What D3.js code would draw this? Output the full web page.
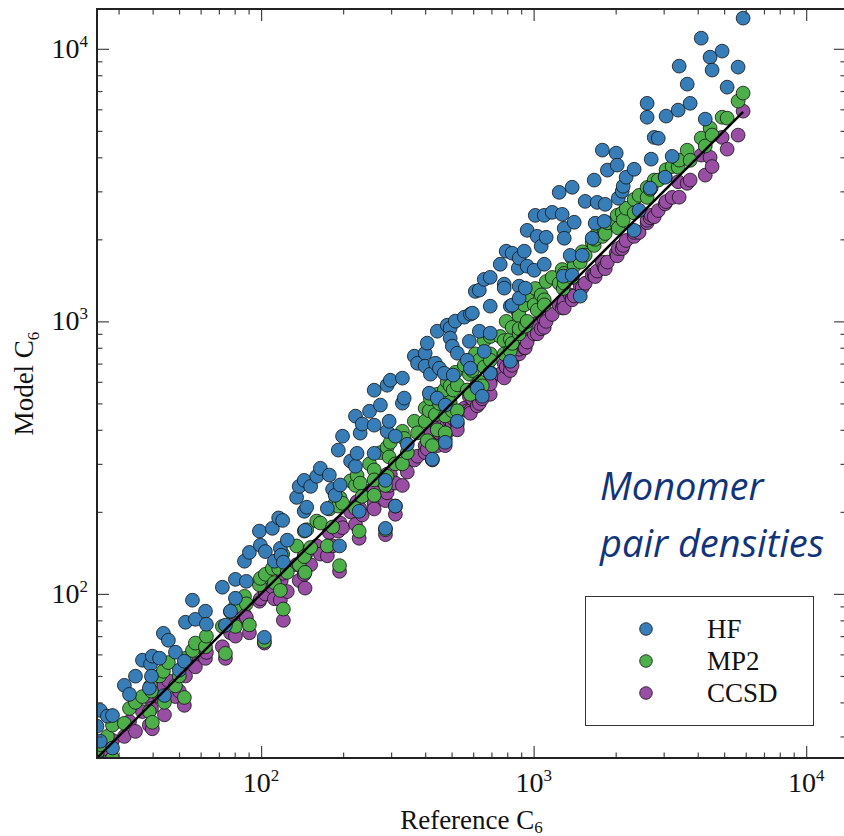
<!DOCTYPE html>
<html>
<head>
<meta charset="utf-8">
<script src="https://cdn.jsdelivr.net/npm/d3@7"></script>
<style>
  body { margin: 0; background: #fff; }
  svg { display: block; }
</style>
</head>
<body>
<div id="chart"></div>
<script>
// Reference C6 for each monomer pair density, and the three model values
const refC6 = [
  25.0, 25.7, 25.7, 27.3, 28.5, 28.5, 31.5, 32.9, 34.6, 36.7,
  38.9, 39.3, 39.6, 39.9, 42.4, 43.8, 44.2, 45.7, 48.5, 50.1,
  52.3, 52.8, 56.0, 57.4, 62.5, 63.0, 72.1, 74.0, 77.2, 80.5,
  80.5, 86.9, 88.3, 90.6, 98.6, 99.4, 102.8, 103.7, 110, 111.9,
  116, 117.7, 118.5, 120, 120.7, 124.8, 135, 138, 144, 144,
  145, 147, 152, 160, 165, 175, 178, 183, 187, 192,
  194, 195, 199, 213, 222, 222, 225, 229, 231, 235,
  250, 260, 260, 260, 274, 286, 286, 290, 290, 295,
  298, 311, 311, 330, 330, 335, 344, 365, 375, 400,
  400, 407, 414, 418, 425, 436, 443, 443, 451, 470,
  474, 474, 482, 494, 494, 503, 507, 516, 525, 525,
  557, 571, 581, 586, 586, 596, 611, 621, 632, 632,
  648, 659, 659, 693, 693, 693, 693, 754, 780, 780,
  793, 821, 821, 834, 834, 878, 885, 885, 885, 924,
  932, 947, 947, 1005, 1014, 1031, 1066, 1094, 1094, 1112,
  1170, 1241, 1273, 1284, 1295, 1295, 1362, 1385, 1385, 1409,
  1483, 1508, 1546, 1640, 1668, 1682, 1711, 1787, 1816, 1831,
  1865, 2009, 2026, 2044, 2113, 2131, 2185, 2338, 2338, 2438,
  2609, 2609, 2677, 2700, 2770, 2866, 3038, 3063, 3224, 3391,
  3420, 3661, 3753, 4120, 4263, 4441, 4517, 4915, 5129, 5627,
  5870
];

const hfC6 = [
  32.7, 37.4, 28.8, 35.6, 35.8, 27.2, 46.2, 42.8, 49.9, 57.1,
  45.1, 55.2, 49.9, 59.1, 58.1, 71.7, 42.4, 67.6, 61.1, 52.5,
  56.6, 78.7, 94.8, 80.7, 86.4, 77.4, 105.8, 76.8, 86.4, 113.1,
  96.4, 131.8, 111.2, 142, 170, 150.9, 69.3, 143, 174, 131.8,
  190, 147, 138.7, 186, 130.7, 157.4, 226, 248, 261, 201,
  171, 208, 248, 270, 289, 206, 273, 242, 230, 337,
  150, 251, 379, 307, 449, 294, 328, 201, 389, 420,
  468, 559, 416, 328, 493, 174, 261, 583, 395, 430,
  608, 379, 210, 619, 501, 523, 354, 745, 702, 764,
  685, 832, 545, 640, 312, 702, 920, 523, 673, 645,
  493, 360, 968, 944, 868, 811, 635, 1002, 764, 430,
  1036, 720, 845, 1063, 673, 1072, 1288, 569, 1302, 920,
  531, 1426, 776, 1451, 1137, 905, 645, 1620, 1369, 1324,
  1809, 1137, 714, 1779, 1147, 1567, 1706, 1346, 1217, 1809,
  1324, 2158, 1594, 1540, 2449, 2052, 1886, 2449, 1620, 2035,
  2512, 2974, 2470, 1465, 2194, 2018, 1747, 3105, 1478, 2310,
  1237, 1747, 2756, 2020, 3298, 2291, 2733, 4249, 2329, 2688,
  3588, 4143, 3744, 2830, 3002, 3132, 3380, 3615, 2158, 2555,
  6310, 5610, 3082, 3936, 4732, 4697, 3378, 5665, 4032, 5957,
  8640, 7421, 6310, 10940, 5521, 9322, 8356, 9808, 7235, 8568,
  12960
];

const mp2C6 = [
  26, 28, 24, 30, 33, 25, 33.5, 38, 40, 42,
  37, 46, 44, 33.8, 50, 52, 40, 56, 46, 50,
  41.7, 58, 62, 66, 64, 70, 76, 60.5, 86, 90,
  76, 98, 92, 77, 108, 114, 67, 118, 124, 110,
  124, 103, 135, 140, 88, 120, 150, 128, 170, 137,
  120, 172, 148, 185, 182, 150, 205, 176, 215, 210,
  127, 225, 215, 260, 250, 206, 272, 170, 255, 228,
  300, 285, 262, 230, 330, 172, 250, 345, 270, 318,
  360, 300, 210, 395, 300, 372, 330, 430, 390, 480,
  430, 365, 470, 520, 350, 455, 540, 400, 500, 560,
  450, 390, 600, 505, 580, 470, 560, 650, 585, 470,
  690, 560, 640, 720, 540, 660, 760, 590, 720, 600,
  580, 850, 680, 760, 880, 650, 720, 880, 850, 760,
  1000, 860, 780, 950, 830, 1080, 900, 1050, 940, 1150,
  960, 1250, 1000, 1150, 1320, 1100, 1250, 1200, 1150, 1400,
  1450, 1380, 1550, 1320, 1500, 1380, 1480, 1700, 1450, 1600,
  1650, 1800, 1750, 1950, 1900, 2000, 2100, 2050, 2150, 2100,
  2300, 2300, 2450, 2200, 2500, 2350, 2600, 2800, 2500, 2900,
  3100, 2850, 3050, 3100, 3300, 3300, 3400, 3600, 3700, 3681,
  3905, 4246, 3900, 4703, 4400, 5117, 4827, 5610, 5568, 6427,
  6878
];

const ccsdC6 = [
  25, 26, 23, 27, 29, 24, 30, 34, 31.3, 37,
  33, 41, 38, 32, 42, 46, 36, 48, 42, 44,
  39, 50, 56, 54, 58, 61, 64, 58, 72, 78,
  70, 84, 82, 72, 94, 96, 66, 100, 106, 96,
  108, 95, 112, 119, 80, 102, 128, 112, 138, 118,
  105, 142, 128, 150, 140, 138, 168, 150, 176, 170,
  121, 182, 175, 200, 212, 180, 218, 160, 205, 195,
  238, 240, 215, 205, 262, 165, 220, 275, 235, 250,
  275, 255, 196, 300, 250, 300, 280, 310, 320, 350,
  330, 340, 372, 390, 310, 360, 410, 350, 390, 420,
  370, 350, 420, 430, 400, 420, 440, 450, 420, 400,
  480, 470, 530, 470, 460, 520, 545, 490, 560, 500,
  520, 560, 570, 600, 620, 540, 590, 640, 700, 620,
  680, 700, 660, 720, 690, 780, 770, 760, 790, 800,
  800, 920, 840, 900, 980, 900, 940, 1020, 950, 1000,
  1060, 1150, 1120, 1150, 1180, 1120, 1250, 1220, 1200, 1240,
  1350, 1330, 1380, 1480, 1480, 1460, 1530, 1650, 1580, 1560,
  1650, 1780, 1740, 1850, 1850, 1900, 1980, 2050, 2120, 2120,
  2300, 2350, 2400, 2450, 2420, 2550, 2700, 2750, 2850, 3253,
  2854, 3210, 3300, 4074, 3440, 3999, 3700, 4732, 4285, 4824,
  5906
];

const seriesNames = ["HF", "MP2", "CCSD"];
const seriesColors = ["#377eb8", "#4daf4a", "#984ea3"];
const majorTicks = [1e2, 1e3, 1e4];
const tickExponents = ["2", "3", "4"];
const axisDomain = [25, 14000];
const annotation = ["Monomer", "pair densities"];

const width = 844, height = 836;
const plot = {left: 97, top: 9, right: 846, bottom: 758};
const serif = "'Liberation Serif', 'Times New Roman', serif";

const svg = d3.select("#chart").append("svg")
    .attr("width", width)
    .attr("height", height);

const x = d3.scaleLog().domain(axisDomain).range([plot.left, plot.right]);
const y = d3.scaleLog().domain(axisDomain).range([plot.bottom, plot.top]);

svg.append("clipPath").attr("id", "clip")
  .append("rect")
    .attr("x", plot.left).attr("y", plot.top)
    .attr("width", plot.right - plot.left)
    .attr("height", plot.bottom - plot.top);

// scatter: CCSD underneath, HF on top
const values = {HF: hfC6, MP2: mp2C6, CCSD: ccsdC6};
const pts = svg.append("g").attr("clip-path", "url(#clip)");
[2, 1, 0].forEach(i => {
    const vals = values[seriesNames[i]];
    pts.append("g").selectAll("circle")
        .data(refC6.map((r, j) => [r, vals[j]]))
        .enter()
        .append("circle")
        .attr("cx", d => x(d[0]))
        .attr("cy", d => y(d[1]))
        .attr("r", 6.9)
        .attr("fill", seriesColors[i])
        .attr("stroke", "#111")
        .attr("stroke-width", 0.8);
});

// y = x line over the reference range
const ext = d3.extent(refC6);
pts.append("path")
    .datum([[ext[0], ext[0]], [ext[1], ext[1]]])
    .attr("d", d3.line().x(d => x(d[0])).y(d => y(d[1])))
    .attr("stroke", "#000")
    .attr("stroke-width", 2.5)
    .attr("fill", "none");

// ticks, all pointing inward
const minorTicks = x.ticks().filter(v => !majorTicks.includes(v));
const axes = [
    [d3.axisBottom(x), `translate(0,${plot.bottom})`],
    [d3.axisTop(x), `translate(0,${plot.top})`],
    [d3.axisLeft(y), `translate(${plot.left},0)`],
    [d3.axisRight(y), `translate(${plot.right},0)`]
];
axes.forEach(([ax, tr]) => {
    [[majorTicks, 12], [minorTicks, 5.5]].forEach(([vals, len]) => {
        svg.append("g")
            .attr("transform", tr)
            .call(ax.tickValues(vals).tickSize(-len).tickSizeOuter(0).tickFormat(""))
            .call(g => g.select(".domain").remove())
            .call(g => g.selectAll("line").attr("stroke", "#444").attr("stroke-width", 1.2));
    });
});

// frame
svg.append("rect")
    .attr("x", plot.left).attr("y", plot.top)
    .attr("width", plot.right - plot.left)
    .attr("height", plot.bottom - plot.top)
    .attr("fill", "none")
    .attr("stroke", "#222")
    .attr("stroke-width", 2);

// tick labels
majorTicks.forEach((v, i) => {
    const tx = svg.append("text")
        .attr("x", x(v)).attr("y", plot.bottom + 34)
        .attr("text-anchor", "middle")
        .attr("font-family", serif).attr("font-size", 28).attr("fill", "#111");
    tx.append("tspan").text("10");
    tx.append("tspan").attr("dy", -11).attr("font-size", 17).text(tickExponents[i]);

    const ty = svg.append("text")
        .attr("x", plot.left - 9).attr("y", y(v) + 9)
        .attr("text-anchor", "end")
        .attr("font-family", serif).attr("font-size", 28).attr("fill", "#111");
    ty.append("tspan").text("10");
    ty.append("tspan").attr("dy", -11).attr("font-size", 17).text(tickExponents[i]);
});

// axis titles
const xt = svg.append("text")
    .attr("x", (plot.left + plot.right) / 2).attr("y", 829)
    .attr("text-anchor", "middle")
    .attr("font-family", serif).attr("font-size", 27).attr("fill", "#111");
xt.append("tspan").text("Reference C");
xt.append("tspan").attr("dy", 4).attr("font-size", 17).text("6");

const yt = svg.append("text")
    .attr("transform", `translate(33,${(plot.top + plot.bottom) / 2}) rotate(-90)`)
    .attr("text-anchor", "middle")
    .attr("font-family", serif).attr("font-size", 27).attr("fill", "#111");
yt.append("tspan").text("Model C");
yt.append("tspan").attr("dy", 6).attr("font-size", 17).text("6");

// annotation
annotation.forEach((line, i) => {
    svg.append("text")
        .attr("x", 600).attr("y", 500 + i * 57)
        .attr("font-family", "'Open Sans', 'Noto Sans', sans-serif")
        .attr("font-style", "italic")
        .attr("font-size", 38)
        .attr("fill", "#113479")
        .text(line);
});

// legend
const legend = svg.append("g");
legend.append("rect")
    .attr("x", 585.5).attr("y", 596.5)
    .attr("width", 228).attr("height", 129)
    .attr("fill", "#fff")
    .attr("stroke", "#333")
    .attr("stroke-width", 1);
seriesNames.forEach((name, i) => {
    const ly = 629 + i * 32;
    legend.append("circle")
        .attr("cx", 646).attr("cy", ly).attr("r", 6.3)
        .attr("fill", seriesColors[i])
        .attr("stroke", "#111").attr("stroke-width", 0.8);
    legend.append("text")
        .attr("x", 707).attr("y", ly + 9)
        .attr("font-family", serif).attr("font-size", 27).attr("fill", "#111")
        .text(name);
});
</script>
</body>
</html>
